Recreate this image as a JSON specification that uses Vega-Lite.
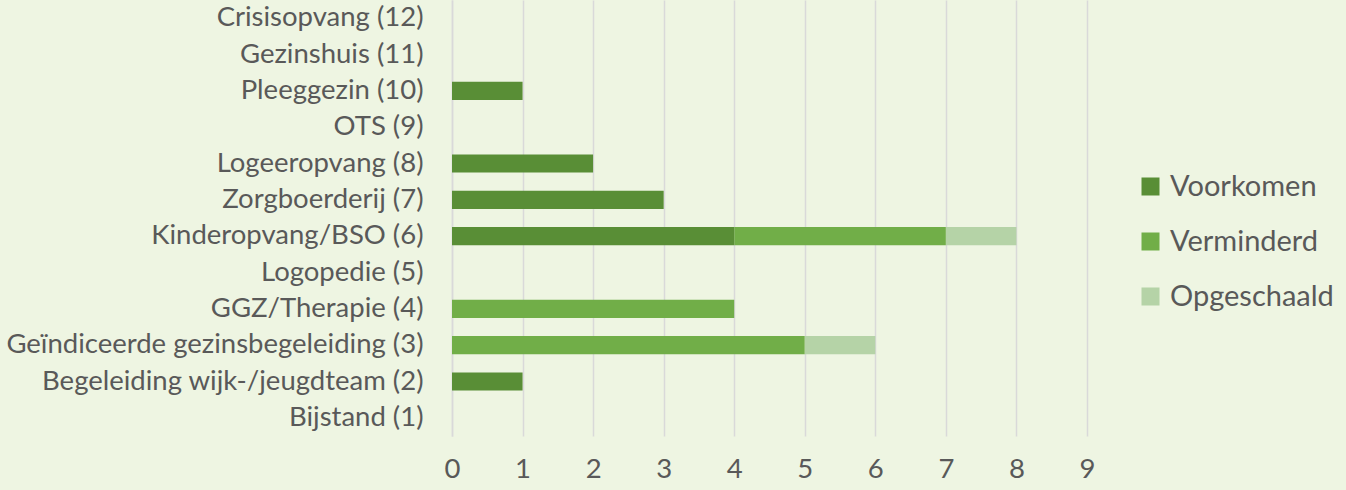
{
  "$schema": "https://vega.github.io/schema/vega-lite/v6.json",
  "autosize": {"type": "none"},
  "width": 635,
  "height": 436,
  "padding": {"left": 452, "top": 0, "right": 259, "bottom": 54},
  "background": "#EEF5E2",
  "config": {
    "view": {"stroke": null},
    "font": "Lato",
    "axis": {"labelFont": "Lato", "labelColor": "#595959", "labelFontSize": 27.5, "labelLimit": 0, "gridColor": "#D9D9D9", "gridWidth": 1.5, "ticks": false},
    "legend": {"labelFont": "Lato", "labelColor": "#595959", "labelFontSize": 29, "labelLimit": 0}
  },
  "data": {
    "values": [
      {"categorie": "Crisisopvang (12)", "type": "Voorkomen", "aantal": 0, "volgorde": 1},
      {"categorie": "Gezinshuis (11)", "type": "Voorkomen", "aantal": 0, "volgorde": 1},
      {"categorie": "Pleeggezin (10)", "type": "Voorkomen", "aantal": 1, "volgorde": 1},
      {"categorie": "OTS (9)", "type": "Voorkomen", "aantal": 0, "volgorde": 1},
      {"categorie": "Logeeropvang (8)", "type": "Voorkomen", "aantal": 2, "volgorde": 1},
      {"categorie": "Zorgboerderij (7)", "type": "Voorkomen", "aantal": 3, "volgorde": 1},
      {"categorie": "Kinderopvang/BSO (6)", "type": "Voorkomen", "aantal": 4, "volgorde": 1},
      {"categorie": "Kinderopvang/BSO (6)", "type": "Verminderd", "aantal": 3, "volgorde": 2},
      {"categorie": "Kinderopvang/BSO (6)", "type": "Opgeschaald", "aantal": 1, "volgorde": 3},
      {"categorie": "Logopedie (5)", "type": "Voorkomen", "aantal": 0, "volgorde": 1},
      {"categorie": "GGZ/Therapie (4)", "type": "Verminderd", "aantal": 4, "volgorde": 2},
      {"categorie": "Geïndiceerde gezinsbegeleiding (3)", "type": "Verminderd", "aantal": 5, "volgorde": 2},
      {"categorie": "Geïndiceerde gezinsbegeleiding (3)", "type": "Opgeschaald", "aantal": 1, "volgorde": 3},
      {"categorie": "Begeleiding wijk-/jeugdteam (2)", "type": "Voorkomen", "aantal": 1, "volgorde": 1},
      {"categorie": "Bijstand (1)", "type": "Voorkomen", "aantal": 0, "volgorde": 1}
    ]
  },
  "mark": {"type": "bar"},
  "encoding": {
    "y": {
      "field": "categorie",
      "type": "nominal",
      "title": null,
      "scale": {
        "domain": ["Crisisopvang (12)", "Gezinshuis (11)", "Pleeggezin (10)", "OTS (9)", "Logeeropvang (8)", "Zorgboerderij (7)", "Kinderopvang/BSO (6)", "Logopedie (5)", "GGZ/Therapie (4)", "Geïndiceerde gezinsbegeleiding (3)", "Begeleiding wijk-/jeugdteam (2)", "Bijstand (1)"],
        "paddingInner": 0.5,
        "paddingOuter": 0.25
      },
      "axis": {"grid": false, "domain": true, "domainColor": "#D9D9D9", "domainWidth": 1.5, "labelPadding": 29}
    },
    "x": {
      "field": "aantal",
      "type": "quantitative",
      "title": null,
      "stack": "zero",
      "scale": {"domain": [0, 9], "nice": false},
      "axis": {"values": [0,1,2,3,4,5,6,7,8,9], "domain": false, "grid": true, "labelPadding": 19, "labelFlush": false}
    },
    "color": {
      "field": "type",
      "type": "nominal",
      "scale": {"domain": ["Voorkomen", "Verminderd", "Opgeschaald"], "range": ["#598E36", "#71AE48", "#B5D3A7"]},
      "legend": {"title": null, "orient": "none", "legendX": 684, "legendY": 172, "symbolType": "square", "symbolSize": 324, "symbolStrokeWidth": 0, "labelOffset": 5, "rowPadding": 25}
    },
    "order": {"field": "volgorde", "type": "quantitative"}
  }
}
